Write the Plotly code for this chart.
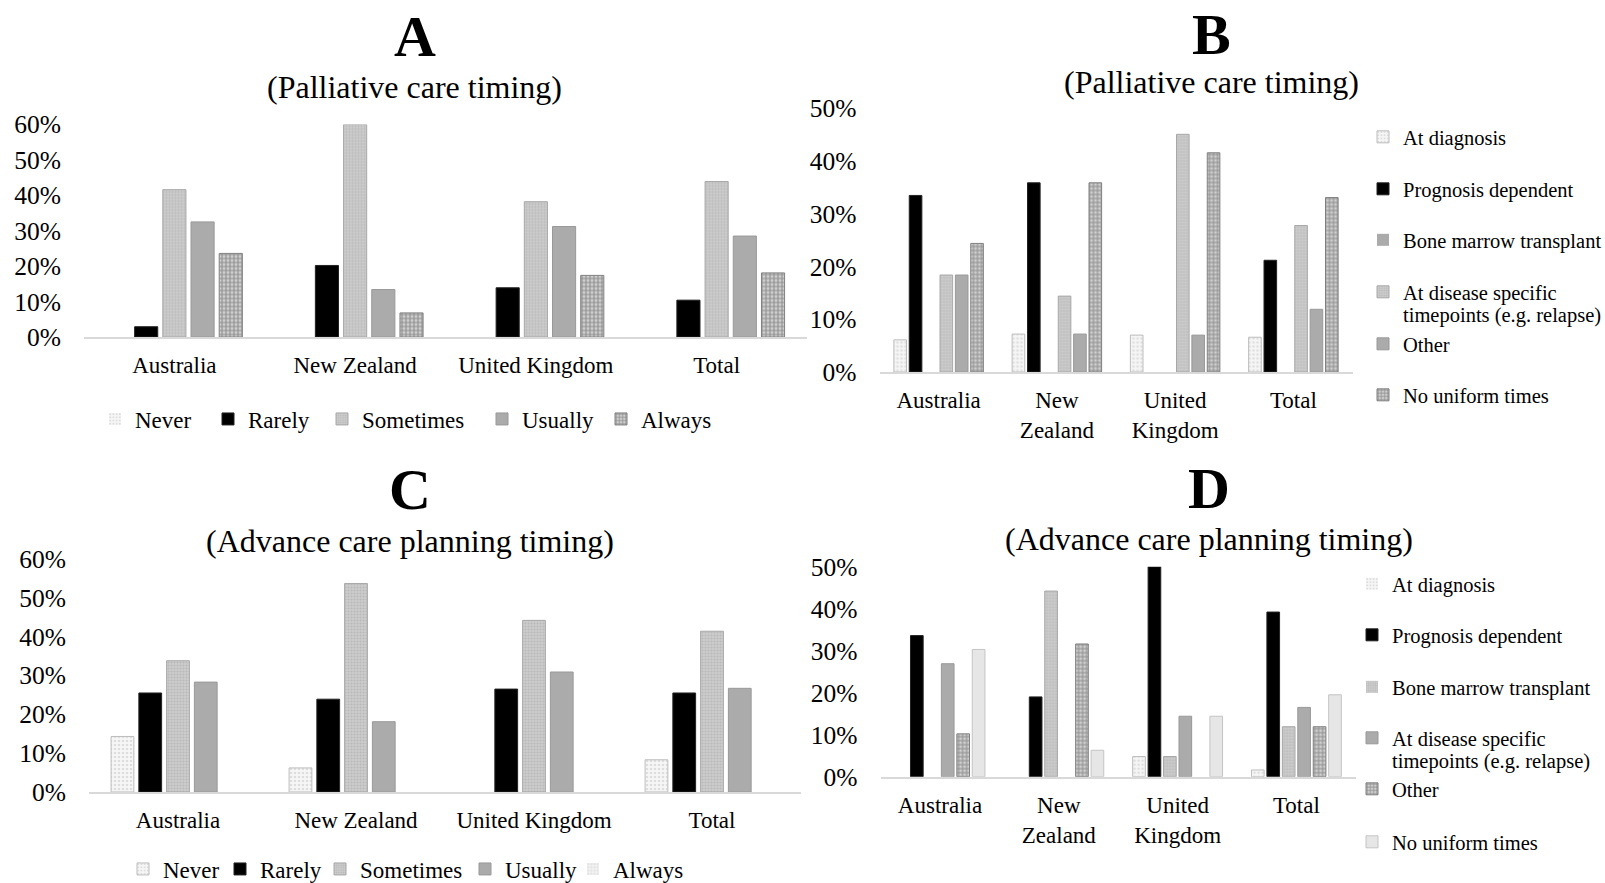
import plotly.graph_objects as go

W, H = 1605, 883
FONT = "Liberation Serif"

# ---------------- data ----------------
countries = ["Australia", "New Zealand", "United Kingdom", "Total"]
countries_wrap = ["Australia", "New<br>Zealand", "United<br>Kingdom", "Total"]

freq_names = ["Never", "Rarely", "Sometimes", "Usually", "Always"]
# Panel A (Palliative care timing) - frequency
never_a = [0, 0, 0, 0]
rarely_a = [2.9, 20.2, 13.9, 10.4]
sometimes_a = [41.6, 60.0, 38.2, 43.9]
usually_a = [32.5, 13.4, 31.2, 28.5]
always_a = [23.6, 6.8, 17.4, 18.1]

# Panel C (Advance care planning timing) - frequency
never_c = [14.3, 6.2, 0, 8.3]
rarely_c = [25.5, 23.9, 26.5, 25.5]
sometimes_c = [33.8, 53.7, 44.2, 41.4]
usually_c = [28.3, 18.1, 30.9, 26.7]
always_c = [0, 0, 0, 0]

time_names = ["At diagnosis", "Prognosis dependent", "Bone marrow transplant",
              "At disease specific", "Other", "No uniform times"]
# Panel B (Palliative care timing) - timepoints
diag_b = [6.1, 7.2, 7.0, 6.6]
prog_b = [33.5, 35.9, 0, 21.2]
bmt_b = [0, 0, 0, 0]
disease_b = [18.4, 14.4, 45.1, 27.8]
other_b = [18.4, 7.2, 7.0, 11.9]
nouni_b = [24.4, 35.9, 41.6, 33.1]

# Panel D (Advance care planning timing) - timepoints
diag_d = [0, 0, 4.8, 1.6]
prog_d = [33.6, 19.0, 50.0, 39.2]
bmt_d = [0, 44.2, 4.8, 11.9]
disease_d = [26.9, 0, 14.4, 16.5]
other_d = [10.2, 31.6, 0, 11.9]
nouni_d = [30.3, 6.3, 14.4, 19.5]

# ---------------- styles ----------------
STY = {
    "dotlight": dict(color="#f4f4f4", lc="#bdbdbd",
                     pattern=dict(shape=".", fgcolor="#c4c4c4", bgcolor="#f6f6f6", size=4, solidity=0.35)),
    "black": dict(color="#000000", lc="#222222"),
    "dotgray": dict(color="#c4c4c4", lc="#a8a8a8",
                    pattern=dict(shape=".", fgcolor="#a6a6a6", bgcolor="#cccccc", size=3, solidity=0.4)),
    "mid": dict(color="#ababab", lc="#999999"),
    "grid": dict(color="#a0a0a0", lc="#808080",
                 pattern=dict(shape="+", fgcolor="#4a4a4a", bgcolor="#cfcfcf", size=4, solidity=0.45)),
    "gridlight": dict(color="#eeeeee", lc="#bbbbbb",
                      pattern=dict(shape="+", fgcolor="#bbbbbb", bgcolor="#f4f4f4", size=4, solidity=0.3)),
    "pale": dict(color="#e6e6e6", lc="#c4c4c4"),
}


def px(x):
    return x / W


def py(y):
    return 1 - y / H


fig = go.Figure()
leg_count = [0]
legends = {}
LEG_DX = 38  # text offset from legend left edge


def add_bar(name, cats, vals, sty, xa, ya, text_x, text_y, fsize):
    leg_count[0] += 1
    k = leg_count[0]
    lname = "legend" if k == 1 else f"legend{k}"
    s = STY[sty]
    marker = dict(color=s["color"],
                  line=dict(color=s["lc"], width=[0 if v == 0 else 1 for v in vals]))
    if "pattern" in s:
        marker["pattern"] = s["pattern"]
    fig.add_trace(go.Bar(name=name, x=cats, y=vals, marker=marker,
                         xaxis=xa, yaxis=ya, legend=lname, showlegend=True))
    legends[lname] = dict(x=px(text_x - LEG_DX), y=py(text_y), xanchor="left", yanchor="middle",
                          bgcolor="rgba(0,0,0,0)", borderwidth=0,
                          font=dict(family=FONT, size=fsize, color="#000"))


# Panel A
a_series = [never_a, rarely_a, sometimes_a, usually_a, always_a]
a_sty = ["dotlight", "black", "dotgray", "mid", "grid"]
a_text_x = [133, 246, 360, 520, 639]
for n, v, s, tx in zip(freq_names, a_series, a_sty, a_text_x):
    add_bar(n, countries, v, s, "x", "y", tx, 419, 23)

# Panel B
b_series = [diag_b, prog_b, bmt_b, disease_b, other_b, nouni_b]
b_sty = ["dotlight", "black", "mid", "dotgray", "mid", "grid"]
b_y = [137, 189, 240, 292, 344, 395]
for n, v, s, ty in zip(time_names, b_series, b_sty, b_y):
    add_bar(n, countries_wrap, v, s, "x2", "y2", 1401, ty, 20.5)

# Panel C
c_series = [never_c, rarely_c, sometimes_c, usually_c, always_c]
c_sty = ["dotlight", "black", "dotgray", "mid", "gridlight"]
c_text_x = [161, 258, 358, 503, 611]
for n, v, s, tx in zip(freq_names, c_series, c_sty, c_text_x):
    add_bar(n, countries, v, s, "x3", "y3", tx, 869, 23)

# Panel D
d_series = [diag_d, prog_d, bmt_d, disease_d, other_d, nouni_d]
d_sty = ["dotlight", "black", "dotgray", "mid", "grid", "pale"]
d_y = [584, 635, 687, 738, 789, 842]
for n, v, s, ty in zip(time_names, d_series, d_sty, d_y):
    add_bar(n, countries_wrap, v, s, "x4", "y4", 1390, ty, 20.5)

# ---------------- axes ----------------
panels = {
    # name: (x0, x1, y_zero, y_top, ymax)
    "": (84, 807, 337, 124.5, 60),
    "2": (879.5, 1352.5, 372, 108.5, 50),
    "3": (89, 801, 792, 559, 60),
    "4": (880.6, 1355.8, 776.7, 566.7, 50),
}
lay = {}
for k, (x0, x1, yz, yt, ymax) in panels.items():
    lay[f"xaxis{k}"] = dict(domain=[px(x0), px(x1)], anchor=f"y{k}", type="category",
                            showline=True, linecolor="#d9d9d9", linewidth=1.5,
                            showgrid=False, zeroline=False, ticks="",
                            ticklabelstandoff=7,
                            tickfont=dict(family=FONT, size=23, color="#000"))
    lay[f"yaxis{k}"] = dict(domain=[py(yz), py(yt)], anchor=f"x{k}", range=[0, ymax],
                            dtick=10, ticksuffix="%", showgrid=False, zeroline=False,
                            showline=False, ticks="", ticklabelstandoff=22,
                            tickfont=dict(family=FONT, size=25.5, color="#000"))

# ---------------- titles ----------------
titles = [
    ("A", "(Palliative care timing)", 414.6, 37, 87),
    ("B", "(Palliative care timing)", 1211, 34, 82),
    ("C", "(Advance care planning timing)", 410, 489, 540.5),
    ("D", "(Advance care planning timing)", 1209, 488, 538.5),
]
ann = []
for letter, sub, cx, ly, sy in titles:
    ann.append(dict(text=f"<b>{letter}</b>", x=px(cx), y=py(ly), xref="paper", yref="paper",
                    xanchor="center", yanchor="middle", showarrow=False,
                    font=dict(family=FONT, size=58, color="#000")))
    ann.append(dict(text=sub, x=px(cx), y=py(sy), xref="paper", yref="paper",
                    xanchor="center", yanchor="middle", showarrow=False,
                    font=dict(family=FONT, size=32, color="#000")))
# wrapped second line of the "At disease specific" legend entries
for tx, ty in [(1401, 315), (1390, 761)]:
    ann.append(dict(text="timepoints (e.g. relapse)", x=px(tx), y=py(ty), xref="paper", yref="paper",
                    xanchor="left", yanchor="middle", showarrow=False,
                    font=dict(family=FONT, size=20.5, color="#000")))

fig.update_layout(
    width=W, height=H, margin=dict(l=0, r=0, t=0, b=0, autoexpand=False),
    paper_bgcolor="white", plot_bgcolor="white",
    barmode="group", bargap=0.22, bargroupgap=0.18,
    annotations=ann, **lay, **legends,
)

fig.write_html(
    "out.html",
    config={"displayModeBar": False},
    post_script="document.body.style.margin='0';document.body.style.overflow='hidden';",
)
